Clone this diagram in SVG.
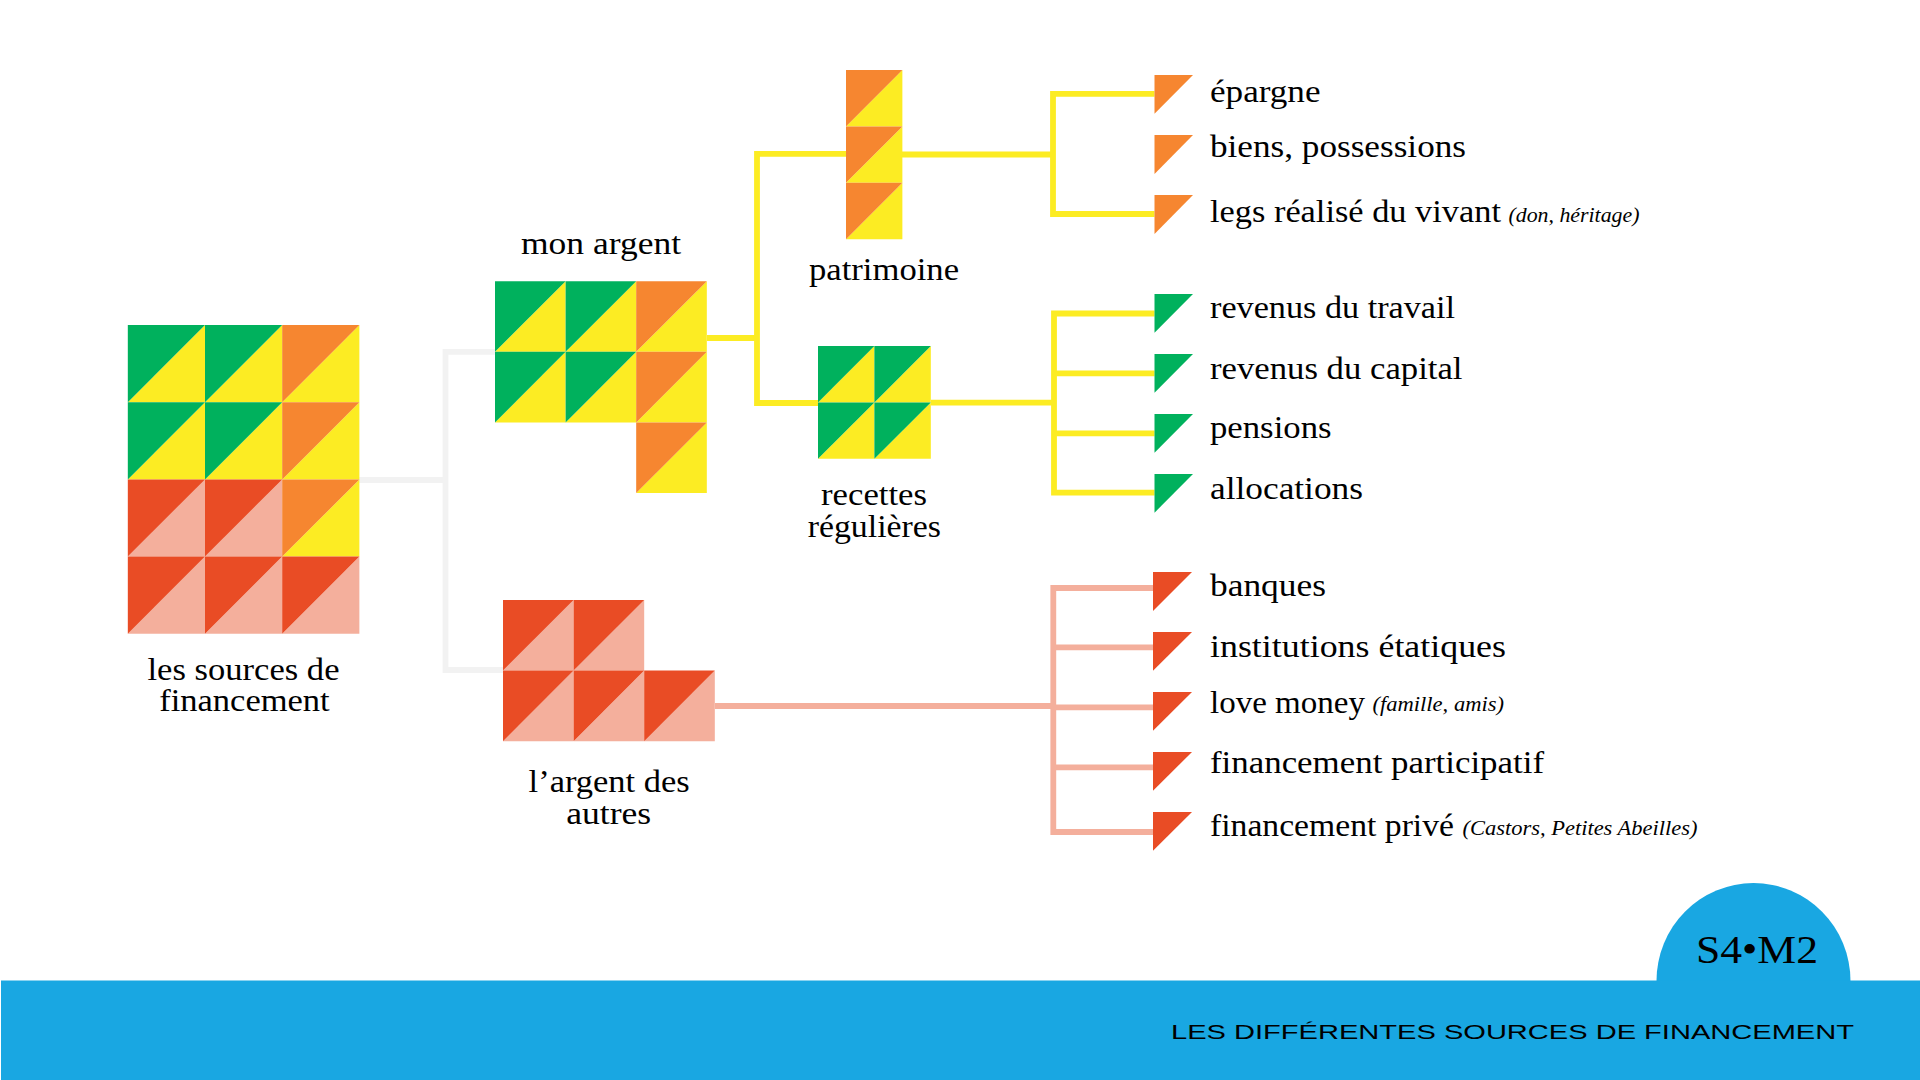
<svg xmlns="http://www.w3.org/2000/svg" width="1920" height="1080" viewBox="0 0 1920 1080">
<style>
.g{fill:#00b15d}.y{fill:#fcec23}.o{fill:#f68630}.r{fill:#e94c25}.s{fill:#f4af9c}
.c{fill:none;stroke-width:5.8;stroke-linejoin:miter}
.cy{stroke:#fcec23}.cs{stroke:#f4af9c}.cg{stroke:#f2f2f2}
text{font-family:"Liberation Serif","Times New Roman",serif;fill:#000;font-size:31px}
.sm{font-style:italic;font-size:20px}
</style>
<defs>
<polygon id="tl" points="0,0 1,0 0,1"/>
<polygon id="br" points="1,0 1,1 0,1"/>
</defs>
<rect width="1920" height="1080" fill="#fff"/>
<g id="connectors">
<path class="c cg" d="M359 480H445.5M495 351.8H445.5V670H503"/>
<path class="c cy" d="M707 338H757M846 153.8H757V403H818"/>
<path class="c cy" d="M902 154.5H1053M1154.5 93.8H1053V214H1154.5"/>
<path class="c cy" d="M931 402.7H1054M1154.5 313.5H1054V492.7H1154.5M1054 373.3H1154.5M1054 433.3H1154.5"/>
<path class="c cs" d="M715 706H1053.3M1153 588H1053.3V832H1153M1053.3 647.3H1153M1053.3 707.3H1153M1053.3 767.3H1153"/>
</g>
<g id="node-sources">
<g transform="translate(127.8 325) scale(77.2)">
<use href="#br" class="y"/><use href="#tl" class="g"/>
<use href="#br" x="1" class="y"/><use href="#tl" x="1" class="g"/>
<use href="#br" x="2" class="y"/><use href="#tl" x="2" class="o"/>
<use href="#br" y="1" class="y"/><use href="#tl" y="1" class="g"/>
<use href="#br" x="1" y="1" class="y"/><use href="#tl" x="1" y="1" class="g"/>
<use href="#br" x="2" y="1" class="y"/><use href="#tl" x="2" y="1" class="o"/>
<use href="#br" y="2" class="s"/><use href="#tl" y="2" class="r"/>
<use href="#br" x="1" y="2" class="s"/><use href="#tl" x="1" y="2" class="r"/>
<use href="#br" x="2" y="2" class="y"/><use href="#tl" x="2" y="2" class="o"/>
<use href="#br" y="3" class="s"/><use href="#tl" y="3" class="r"/>
<use href="#br" x="1" y="3" class="s"/><use href="#tl" x="1" y="3" class="r"/>
<use href="#br" x="2" y="3" class="s"/><use href="#tl" x="2" y="3" class="r"/>
</g>
<text x="147.5" y="679.5" textLength="192" lengthAdjust="spacingAndGlyphs">les sources de</text>
<text x="159.2" y="711.3" textLength="170.5" lengthAdjust="spacingAndGlyphs">financement</text>
</g>
<g id="node-mon-argent">
<g transform="translate(495 281.2) scale(70.6)">
<use href="#br" class="y"/><use href="#tl" class="g"/>
<use href="#br" x="1" class="y"/><use href="#tl" x="1" class="g"/>
<use href="#br" x="2" class="y"/><use href="#tl" x="2" class="o"/>
<use href="#br" y="1" class="y"/><use href="#tl" y="1" class="g"/>
<use href="#br" x="1" y="1" class="y"/><use href="#tl" x="1" y="1" class="g"/>
<use href="#br" x="2" y="1" class="y"/><use href="#tl" x="2" y="1" class="o"/>
<use href="#br" x="2" y="2" class="y"/><use href="#tl" x="2" y="2" class="o"/>
</g>
<text x="521" y="253.5" textLength="160" lengthAdjust="spacingAndGlyphs">mon argent</text>
</g>
<g id="node-argent-autres">
<g transform="translate(503 600) scale(70.6)">
<use href="#br" class="s"/><use href="#tl" class="r"/>
<use href="#br" x="1" class="s"/><use href="#tl" x="1" class="r"/>
<use href="#br" y="1" class="s"/><use href="#tl" y="1" class="r"/>
<use href="#br" x="1" y="1" class="s"/><use href="#tl" x="1" y="1" class="r"/>
<use href="#br" x="2" y="1" class="s"/><use href="#tl" x="2" y="1" class="r"/>
</g>
<text x="528.6" y="792.2" textLength="161" lengthAdjust="spacingAndGlyphs">l’argent des</text>
<text x="566.2" y="824.2" textLength="85" lengthAdjust="spacingAndGlyphs">autres</text>
</g>
<g id="node-patrimoine">
<g transform="translate(846 70) scale(56.4)">
<use href="#br" class="y"/><use href="#tl" class="o"/>
<use href="#br" y="1" class="y"/><use href="#tl" y="1" class="o"/>
<use href="#br" y="2" class="y"/><use href="#tl" y="2" class="o"/>
</g>
<text x="809" y="280.2" textLength="150" lengthAdjust="spacingAndGlyphs">patrimoine</text>
</g>
<g id="node-recettes">
<g transform="translate(818 346) scale(56.4)">
<use href="#br" class="y"/><use href="#tl" class="g"/>
<use href="#br" x="1" class="y"/><use href="#tl" x="1" class="g"/>
<use href="#br" y="1" class="y"/><use href="#tl" y="1" class="g"/>
<use href="#br" x="1" y="1" class="y"/><use href="#tl" x="1" y="1" class="g"/>
</g>
<text x="821" y="505" textLength="106" lengthAdjust="spacingAndGlyphs">recettes</text>
<text x="807.7" y="537" textLength="133.3" lengthAdjust="spacingAndGlyphs">régulières</text>
</g>
<g id="node-epargne"><polygon class="o" points="1154.5,75 1193,75 1154.5,113.7"/><text x="1210" y="102.2" textLength="110.5" lengthAdjust="spacingAndGlyphs">épargne</text></g>
<g id="node-biens"><polygon class="o" points="1154.5,135 1193,135 1154.5,174"/><text x="1210" y="156.5" textLength="256" lengthAdjust="spacingAndGlyphs">biens, possessions</text></g>
<g id="node-legs"><polygon class="o" points="1154.5,195 1193,195 1154.5,234"/><text x="1210" y="222.2" textLength="291" lengthAdjust="spacingAndGlyphs">legs réalisé du vivant</text><text class="sm" x="1508.5" y="221.7" textLength="131" lengthAdjust="spacingAndGlyphs">(don, héritage)</text></g>
<g id="node-travail"><polygon class="g" points="1154.5,294 1193,294 1154.5,332.7"/><text x="1210" y="318.2" textLength="245" lengthAdjust="spacingAndGlyphs">revenus du travail</text></g>
<g id="node-capital"><polygon class="g" points="1154.5,354 1193,354 1154.5,392.7"/><text x="1210" y="379.2" textLength="252.5" lengthAdjust="spacingAndGlyphs">revenus du capital</text></g>
<g id="node-pensions"><polygon class="g" points="1154.5,414 1193,414 1154.5,452.7"/><text x="1210" y="438.2" textLength="121.5" lengthAdjust="spacingAndGlyphs">pensions</text></g>
<g id="node-allocations"><polygon class="g" points="1154.5,474 1193,474 1154.5,512.7"/><text x="1210" y="499" textLength="153" lengthAdjust="spacingAndGlyphs">allocations</text></g>
<g id="node-banques"><polygon class="r" points="1153,572 1192,572 1153,611"/><text x="1210" y="596.2" textLength="116" lengthAdjust="spacingAndGlyphs">banques</text></g>
<g id="node-institutions"><polygon class="r" points="1153,632 1192,632 1153,670.7"/><text x="1210" y="656.5" textLength="296" lengthAdjust="spacingAndGlyphs">institutions étatiques</text></g>
<g id="node-love"><polygon class="r" points="1153,692 1192,692 1153,730.7"/><text x="1210" y="712.5" textLength="155" lengthAdjust="spacingAndGlyphs">love money</text><text class="sm" x="1372.5" y="711" textLength="131.5" lengthAdjust="spacingAndGlyphs">(famille, amis)</text></g>
<g id="node-participatif"><polygon class="r" points="1153,752 1192,752 1153,790.7"/><text x="1210" y="773.2" textLength="334" lengthAdjust="spacingAndGlyphs">financement participatif</text></g>
<g id="node-prive"><polygon class="r" points="1153,812 1192,812 1153,850.7"/><text x="1210" y="836.2" textLength="244" lengthAdjust="spacingAndGlyphs">financement privé</text><text class="sm" x="1462.5" y="835" textLength="235" lengthAdjust="spacingAndGlyphs">(Castors, Petites Abeilles)</text></g>
<g id="footer">
<path d="M1656.5 981A97 98 0 0 1 1850.5 981Z" fill="#19a7e2"/>
<rect x="1" y="980.5" width="1919" height="100" fill="#19a7e2"/>
<text x="1696" y="962.5" style="font-size:40px" textLength="122" lengthAdjust="spacingAndGlyphs">S4•M2</text>
<text x="1171" y="1039" style="font-family:'Liberation Sans',Arial,sans-serif;font-size:19.5px" textLength="683" lengthAdjust="spacingAndGlyphs">LES DIFFÉRENTES SOURCES DE FINANCEMENT</text>
</g>
</svg>
